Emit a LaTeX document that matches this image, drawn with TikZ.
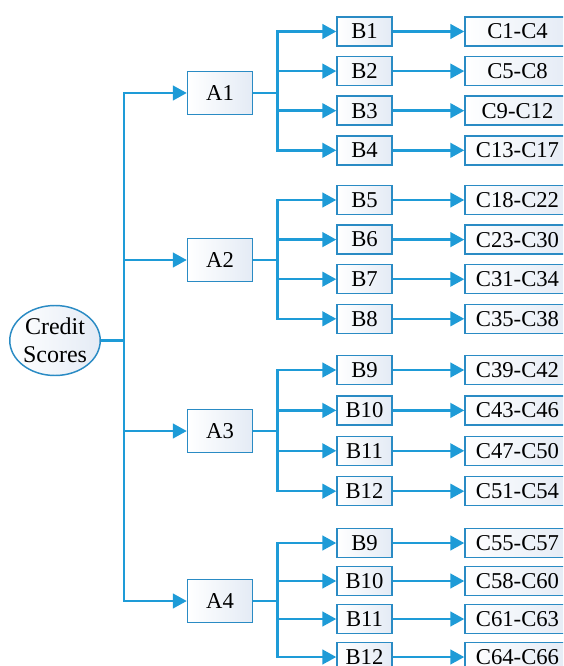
\documentclass[tikz,border=0pt]{standalone}
\usepackage{fontspec}
\setmainfont{Liberation Serif}
\usetikzlibrary{arrows.meta, positioning, shapes.geometric}

\definecolor{linkblue}{HTML}{1E9BD7}
\definecolor{boxblue}{HTML}{2A8BC4}
\definecolor{boxfill}{HTML}{E4EBF5}

\begin{document}
\begin{tikzpicture}[x=0.75pt, y=-0.75pt, >={Triangle[length=10.5pt, width=11pt]},
    line width=1.9pt, node distance=29.7pt,
    box/.style={draw=boxblue, line width=1.1pt, left color=white, right color=boxfill,
        inner sep=0pt, font=\fontsize{17pt}{21pt}\selectfont},
    critbox/.style={box, minimum width=48.75pt, minimum height=32.25pt},
    subbox/.style={box, minimum width=41.25pt, minimum height=21.75pt},
    indbox/.style={box, minimum width=78.75pt, minimum height=21.75pt},
    link/.style={->, linkblue},
    elbow/.style={to path={-- ++(#1,0) |- (\tikztotarget)}}]
        \clip (0,0) rectangle (563,666);

        \node[box, ellipse, align=center, minimum width=64.5pt, minimum height=52.5pt,
            font=\fontsize{18pt}{21pt}\selectfont] (cs) at (55,340.5) {Credit\\Scores};

        % Criteria
        \node[critbox] (a1) at (220,93) {A1};
        \node[critbox] (a2) at (220,260) {A2};
        \node[critbox] (a3) at (220,431) {A3};
        \node[critbox] (a4) at (220,601) {A4};

        % Sub-criteria of A1
        \node[subbox] (b1) at (364.5,31.5) {B1};
        \node[subbox] (b2) [below of=b1] {B2};
        \node[subbox] (b3) [below of=b2] {B3};
        \node[subbox] (b4) [below of=b3] {B4};

        % Sub-criteria of A2
        \node[subbox] (b5) at (364.5,200) {B5};
        \node[subbox] (b6) [below of=b5] {B6};
        \node[subbox] (b7) [below of=b6] {B7};
        \node[subbox] (b8) [below of=b7] {B8};

        % Sub-criteria of A3
        \node[subbox] (b9) at (364.5,370) {B9};
        \node[subbox] (b10) [below of=b9, node distance=30.3pt] {B10};
        \node[subbox] (b11) [below of=b10, node distance=30.3pt] {B11};
        \node[subbox] (b12) [below of=b11, node distance=30.3pt] {B12};

        % Sub-criteria of A4
        \node[subbox] (b13) at (364.5,543) {B9};
        \node[subbox] (b14) [below of=b13, node distance=28.5pt] {B10};
        \node[subbox] (b15) [below of=b14, node distance=28.5pt] {B11};
        \node[subbox] (b16) [below of=b15, node distance=28.5pt] {B12};

        % Indicator ranges
        \node[indbox] (c1) [right of=b1, node distance=114.75pt] {C1-C4};
        \node[indbox] (c2) [right of=b2, node distance=114.75pt] {C5-C8};
        \node[indbox] (c3) [right of=b3, node distance=114.75pt] {C9-C12};
        \node[indbox] (c4) [right of=b4, node distance=114.75pt] {C13-C17};
        \node[indbox] (c5) [right of=b5, node distance=114.75pt] {C18-C22};
        \node[indbox] (c6) [right of=b6, node distance=114.75pt] {C23-C30};
        \node[indbox] (c7) [right of=b7, node distance=114.75pt] {C31-C34};
        \node[indbox] (c8) [right of=b8, node distance=114.75pt] {C35-C38};
        \node[indbox] (c9) [right of=b9, node distance=114.75pt] {C39-C42};
        \node[indbox] (c10) [right of=b10, node distance=114.75pt] {C43-C46};
        \node[indbox] (c11) [right of=b11, node distance=114.75pt] {C47-C50};
        \node[indbox] (c12) [right of=b12, node distance=114.75pt] {C51-C54};
        \node[indbox] (c13) [right of=b13, node distance=114.75pt] {C55-C57};
        \node[indbox] (c14) [right of=b14, node distance=114.75pt] {C58-C60};
        \node[indbox] (c15) [right of=b15, node distance=114.75pt] {C61-C63};
        \node[indbox] (c16) [right of=b16, node distance=114.75pt] {C64-C66};

        \path[link]
        % From the root
        (cs.east) edge[elbow=23] (a1)
        (cs.east) edge[elbow=23] (a2)
        (cs.east) edge[elbow=23] (a3)
        (cs.east) edge[elbow=23] (a4)

        % From A1
        (a1.east) edge[elbow=24] (b1)
        (a1.east) edge[elbow=24] (b2)
        (a1.east) edge[elbow=24] (b3)
        (a1.east) edge[elbow=24] (b4)

        % From A2
        (a2.east) edge[elbow=24] (b5)
        (a2.east) edge[elbow=24] (b6)
        (a2.east) edge[elbow=24] (b7)
        (a2.east) edge[elbow=24] (b8)

        % From A3
        (a3.east) edge[elbow=24] (b9)
        (a3.east) edge[elbow=24] (b10)
        (a3.east) edge[elbow=24] (b11)
        (a3.east) edge[elbow=24] (b12)

        % From A4
        (a4.east) edge[elbow=24] (b13)
        (a4.east) edge[elbow=24] (b14)
        (a4.east) edge[elbow=24] (b15)
        (a4.east) edge[elbow=24] (b16)

        % Sub-criteria to indicators
        (b1) edge (c1)   (b2) edge (c2)   (b3) edge (c3)   (b4) edge (c4)
        (b5) edge (c5)   (b6) edge (c6)   (b7) edge (c7)   (b8) edge (c8)
        (b9) edge (c9)   (b10) edge (c10) (b11) edge (c11) (b12) edge (c12)
        (b13) edge (c13) (b14) edge (c14) (b15) edge (c15) (b16) edge (c16);
    \end{tikzpicture}
\end{document}
